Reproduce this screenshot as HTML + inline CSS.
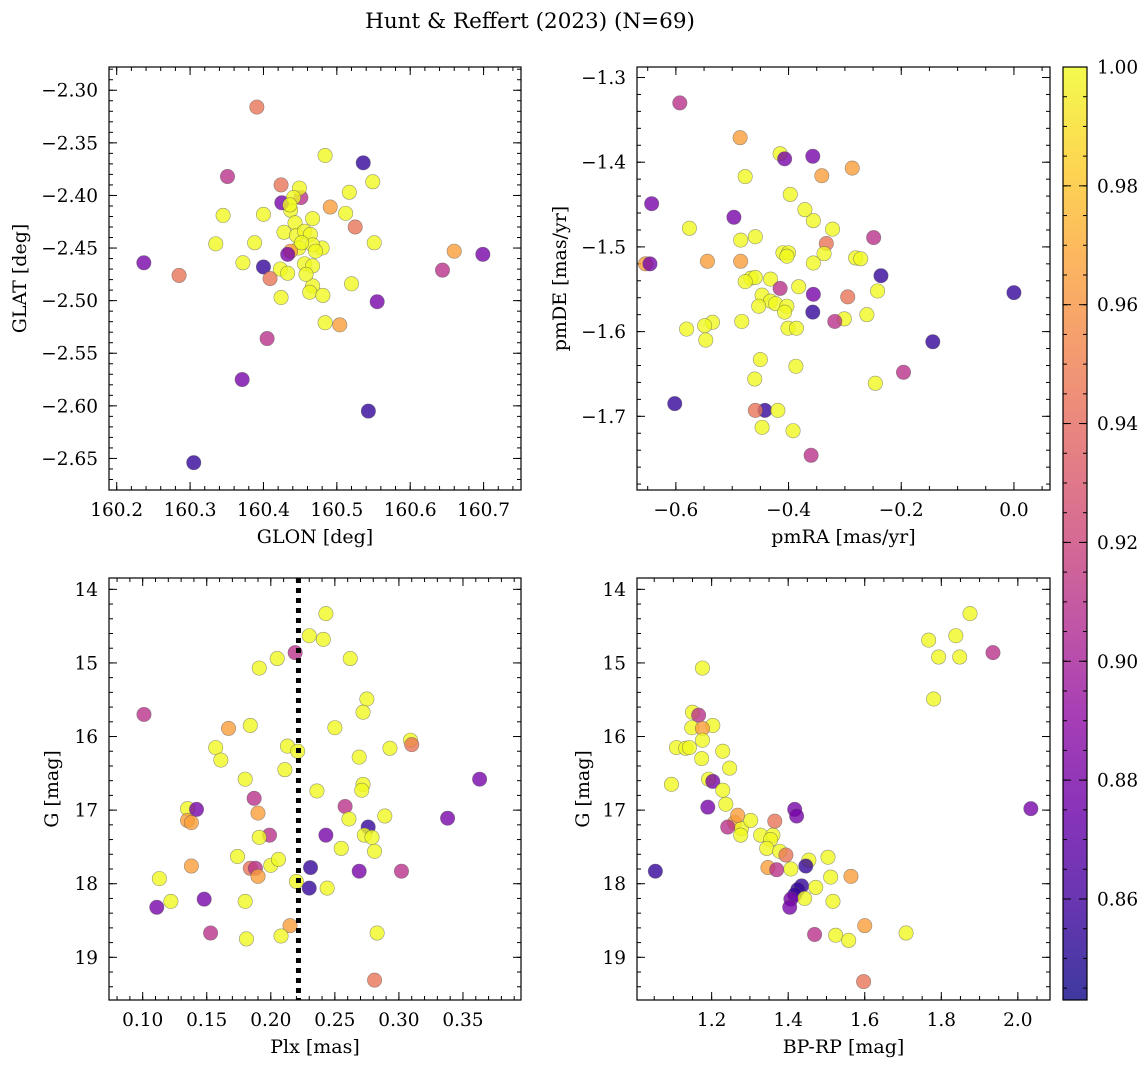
<!DOCTYPE html>
<html><head><meta charset="utf-8"><style>
html,body{margin:0;padding:0;background:#fff;}
svg{display:block;font-family:"DejaVu Serif","Liberation Serif",serif;}
</style></head><body>
<svg id="fig" width="1148" height="1067" viewBox="0 0 1148 1067" xmlns="http://www.w3.org/2000/svg">
<defs>
<linearGradient id="plasma" x1="0" y1="1" x2="0" y2="0">
<stop offset="0" stop-color="#0d0887"/><stop offset="0.1" stop-color="#41049d"/><stop offset="0.2" stop-color="#6a00a8"/><stop offset="0.3" stop-color="#8f0da4"/><stop offset="0.4" stop-color="#b12a90"/><stop offset="0.5" stop-color="#cc4778"/><stop offset="0.6" stop-color="#e16462"/><stop offset="0.7" stop-color="#f2844b"/><stop offset="0.8" stop-color="#fca636"/><stop offset="0.9" stop-color="#fcce25"/><stop offset="1" stop-color="#f0f921"/>
</linearGradient>
</defs>
<text x="530" y="28" font-size="21.5" text-anchor="middle">Hunt &amp; Reffert (2023) (N=69)</text>
</svg>
<script>
// Color values: D=0.855 P=0.88 M=0.91 S=0.945 O=0.965 Y=1.0
const D=0.855,P=0.88,M=0.91,S=0.945,O=0.965,Y=1.0;
// Panel 1: GLON / GLAT
const glon=[160.391,160.484,160.536,160.351,160.424,160.451,160.449,160.517,160.549,160.345,160.400,160.437,160.425,160.491,160.512,160.525,160.443,160.467,160.335,160.388,160.428,160.445,160.456,160.464,160.480,160.467,160.448,160.471,160.551,160.437,160.433,160.237,160.372,160.400,160.423,160.433,160.456,160.467,160.409,160.285,160.467,160.463,160.520,160.644,160.660,160.699,160.424,160.481,160.484,160.504,160.555,160.405,160.371,160.543,160.305,160.452,160.458,160.441,160.436];
const glat=[-2.316,-2.362,-2.369,-2.382,-2.390,-2.402,-2.393,-2.397,-2.387,-2.419,-2.418,-2.414,-2.407,-2.411,-2.417,-2.430,-2.426,-2.422,-2.446,-2.445,-2.435,-2.438,-2.434,-2.437,-2.450,-2.447,-2.450,-2.453,-2.445,-2.453,-2.456,-2.464,-2.464,-2.468,-2.470,-2.474,-2.465,-2.467,-2.479,-2.476,-2.486,-2.492,-2.484,-2.471,-2.453,-2.456,-2.497,-2.495,-2.521,-2.523,-2.501,-2.536,-2.575,-2.605,-2.654,-2.445,-2.475,-2.402,-2.409];
const prob1=[S,Y,D,M,S,M,Y,Y,Y,Y,Y,Y,P,O,Y,S,Y,Y,Y,Y,Y,Y,Y,Y,Y,Y,Y,Y,Y,O,P,P,Y,D,Y,Y,Y,Y,S,S,Y,Y,Y,M,O,P,Y,Y,Y,O,P,M,P,D,D,Y,Y,Y,Y];
// Panel 2: pmRA / pmDE
const pmra=[-0.593,-0.486,-0.415,-0.407,-0.357,-0.287,-0.341,-0.477,-0.397,-0.643,-0.497,-0.356,-0.371,-0.322,-0.576,-0.459,-0.485,-0.333,-0.249,-0.410,-0.400,-0.337,-0.403,-0.654,-0.646,-0.544,-0.485,-0.356,-0.281,-0.272,-0.236,-0.467,-0.459,-0.432,-0.477,-0.382,-0.415,-0.356,-0.242,-0.295,-0.447,-0.432,-0.423,-0.453,-0.403,-0.407,-0.357,-0.261,-0.301,-0.318,-0.483,-0.535,0.0,-0.401,-0.386,-0.549,-0.581,-0.144,-0.547,-0.450,-0.387,-0.460,-0.246,-0.196,-0.602,-0.442,-0.459,-0.419,-0.447,-0.392,-0.360];
const pmde=[-1.330,-1.371,-1.390,-1.396,-1.393,-1.407,-1.416,-1.417,-1.438,-1.449,-1.465,-1.469,-1.456,-1.479,-1.478,-1.488,-1.492,-1.496,-1.489,-1.507,-1.507,-1.508,-1.511,-1.520,-1.520,-1.517,-1.517,-1.519,-1.513,-1.514,-1.534,-1.537,-1.536,-1.538,-1.541,-1.547,-1.549,-1.556,-1.552,-1.559,-1.557,-1.564,-1.567,-1.570,-1.570,-1.577,-1.577,-1.580,-1.585,-1.588,-1.588,-1.589,-1.554,-1.596,-1.596,-1.593,-1.597,-1.612,-1.610,-1.633,-1.641,-1.656,-1.661,-1.648,-1.685,-1.693,-1.693,-1.693,-1.713,-1.717,-1.746];
const prob2=[M,O,Y,P,P,O,O,Y,Y,P,P,Y,Y,Y,Y,Y,Y,S,M,Y,Y,Y,Y,O,P,O,O,Y,Y,Y,D,Y,Y,Y,Y,Y,M,P,Y,S,Y,Y,Y,Y,Y,Y,D,Y,Y,M,Y,Y,D,Y,Y,Y,Y,D,Y,Y,Y,Y,Y,M,D,D,S,Y,Y,Y,M];
// Panel 3: Plx / G
const plx=[0.101,0.243,0.230,0.241,0.219,0.205,0.262,0.191,0.275,0.272,0.167,0.184,0.250,0.309,0.310,0.157,0.213,0.221,0.293,0.269,0.161,0.211,0.180,0.363,0.236,0.272,0.271,0.187,0.258,0.135,0.142,0.190,0.289,0.261,0.135,0.138,0.276,0.199,0.191,0.243,0.273,0.279,0.338,0.255,0.281,0.174,0.138,0.184,0.188,0.231,0.200,0.206,0.269,0.302,0.113,0.190,0.220,0.230,0.244,0.148,0.122,0.180,0.111,0.215,0.283,0.153,0.208,0.181,0.281];
const gmag3=[15.70,14.33,14.63,14.68,14.86,14.94,14.94,15.07,15.49,15.67,15.89,15.85,15.88,16.05,16.11,16.15,16.13,16.20,16.16,16.28,16.32,16.45,16.58,16.58,16.74,16.65,16.73,16.84,16.95,16.98,16.99,17.04,17.08,17.12,17.14,17.17,17.23,17.34,17.37,17.34,17.34,17.37,17.11,17.52,17.56,17.63,17.76,17.79,17.79,17.78,17.75,17.67,17.83,17.83,17.93,17.90,17.97,18.06,18.06,18.21,18.24,18.24,18.32,18.57,18.67,18.67,18.71,18.75,19.31];
const prob3=[M,Y,Y,Y,M,Y,Y,Y,Y,Y,O,Y,Y,Y,S,Y,Y,Y,Y,Y,Y,Y,Y,P,Y,Y,Y,M,M,Y,P,O,Y,Y,O,O,D,M,Y,P,Y,Y,P,Y,Y,Y,O,S,M,D,Y,Y,P,M,Y,O,Y,D,Y,P,Y,Y,P,O,Y,M,Y,Y,S];
// Panel 4: BP-RP / G
const bprp=[1.875,1.838,1.767,1.848,1.793,1.935,1.176,1.780,1.150,1.166,1.203,1.148,1.176,1.176,1.108,1.132,1.142,1.229,1.174,1.095,1.247,1.192,1.203,1.229,1.237,1.190,1.260,1.278,1.242,1.302,1.268,1.276,1.328,1.360,1.417,1.422,1.365,1.354,1.344,2.034,1.378,1.394,1.454,1.504,1.446,1.347,1.407,1.370,1.053,1.564,1.511,1.435,1.425,1.472,1.417,1.443,1.407,1.517,1.404,1.600,1.708,1.469,1.524,1.558,1.597];
const gmag4=[14.33,14.63,14.69,14.92,14.92,14.86,15.07,15.49,15.67,15.71,15.85,15.88,15.89,16.05,16.15,16.16,16.15,16.20,16.30,16.65,16.43,16.58,16.61,16.73,16.92,16.96,17.17,17.25,17.23,17.14,17.07,17.34,17.34,17.34,16.99,17.08,17.15,17.40,17.52,16.98,17.56,17.61,17.68,17.64,17.76,17.78,17.80,17.81,17.83,17.90,17.91,18.03,18.08,18.05,18.15,18.20,18.21,18.24,18.32,18.57,18.67,18.69,18.70,18.77,19.33];
const prob4=[Y,Y,Y,Y,Y,M,Y,Y,Y,M,Y,Y,O,Y,Y,Y,Y,Y,Y,Y,Y,Y,P,Y,Y,P,O,Y,M,Y,O,Y,Y,Y,P,P,S,Y,Y,P,Y,S,Y,Y,D,O,Y,M,D,O,Y,D,D,Y,D,Y,P,Y,P,O,Y,M,Y,Y,S];
const plxLine=[0.2216];
const cbTicks=[0.86,0.88,0.90,0.92,0.94,0.96,0.98,1.00];

const NS="http://www.w3.org/2000/svg";
const svg=document.getElementById('fig');
function el(tag,attrs,parent){const e=document.createElementNS(NS,tag);for(const k in attrs)e.setAttribute(k,attrs[k]);(parent||svg).appendChild(e);return e;}
const stops=[[0,[13,8,135]],[0.1,[65,4,157]],[0.2,[106,0,168]],[0.3,[143,13,164]],[0.4,[177,42,144]],[0.5,[204,71,120]],[0.6,[225,100,98]],[0.7,[242,132,75]],[0.8,[252,166,54]],[0.9,[252,206,37]],[1,[240,249,33]]];
const CMIN=0.843,CMAX=1.0;
function plasma(v){let t=Math.max(0,Math.min(1,(v-CMIN)/(CMAX-CMIN)));for(let i=1;i<stops.length;i++){if(t<=stops[i][0]){const a=stops[i-1],b=stops[i];const f=(t-a[0])/(b[0]-a[0]);const c=a[1].map((x,j)=>Math.round(x+(b[1][j]-x)*f));return `rgb(${c[0]},${c[1]},${c[2]})`;}}return 'rgb(240,249,33)';}
function fmt(v,d){const s=Math.abs(v).toFixed(d);return (v<-1e-9?'\u2212':'')+s;}
const TFS=18.5, LFS=19;

function panel(cfg){
  const {name,L,T,W,H,xd,yd,yinv,xmaj,xmin,ymaj,ymin,xdec,ydec,xlabel,ylabel,ylOff}=cfg;
  const g=el('g',{});
  
  
  const sx=v=>L+(v-xd[0])/(xd[1]-xd[0])*W;
  const sy=v=>yinv? T+(v-yd[0])/(yd[1]-yd[0])*H : T+H-(v-yd[0])/(yd[1]-yd[0])*H;
  const ticks=(a,b,s)=>{const r=[];const n0=Math.ceil(a/s-1e-6),n1=Math.floor(b/s+1e-6);for(let n=n0;n<=n1;n++)r.push(+(n*s).toFixed(6));return r;};
  const tg=el('g',{stroke:'#000','stroke-width':1},g);
  
  
  ticks(xd[0],xd[1],xmin).forEach(v=>{const x=sx(v);el('line',{x1:x,x2:x,y1:T+H,y2:T+H-4},tg);el('line',{x1:x,x2:x,y1:T,y2:T+4},tg);});
  ticks(yd[0],yd[1],ymin).forEach(v=>{const y=sy(v);el('line',{x1:L,x2:L+4,y1:y,y2:y},tg);el('line',{x1:L+W,x2:L+W-4,y1:y,y2:y},tg);});
  ticks(xd[0],xd[1],xmaj).forEach(v=>{const x=sx(v);el('line',{x1:x,x2:x,y1:T+H,y2:T+H-8},tg);el('line',{x1:x,x2:x,y1:T,y2:T+8},tg);
    const t=el('text',{x:x,y:T+H+26,'font-size':TFS,'text-anchor':'middle'},g);t.textContent=fmt(v,xdec);
    });
  ticks(yd[0],yd[1],ymaj).forEach(v=>{const y=sy(v);el('line',{x1:L,x2:L+8,y1:y,y2:y},tg);el('line',{x1:L+W,x2:L+W-8,y1:y,y2:y},tg);
    const t=el('text',{x:L-11,y:y+6.5,'font-size':TFS,'text-anchor':'end'},g);t.textContent=fmt(v,ydec);
    });
  const xl=el('text',{x:L+W/2,y:T+H+53,'font-size':LFS,'text-anchor':'middle'},g);xl.textContent=xlabel;
  
  const yl=el('text',{x:0,y:0,'font-size':LFS,'text-anchor':'middle',transform:`translate(${L-ylOff+6},${T+H/2}) rotate(-90)`},g);yl.textContent=ylabel;
  
  const fr=el('rect',{x:L,y:T,width:W,height:H,fill:'none',stroke:'#000','stroke-width':1.2},g);
  
  return {g,sx,sy};
}
function scatter(p,xs,ys,cs,name){
  const pg=el('g',{},p.g);
  
  
  for(let i=0;i<xs.length;i++){
    const c=el('circle',{cx:p.sx(xs[i]),cy:p.sy(ys[i]),r:7.2,fill:plasma(cs[i]),'fill-opacity':0.8,stroke:'#555','stroke-opacity':0.6,'stroke-width':0.6},pg);
    
    
  }
}
const p1=panel({name:'glon-glat-panel',L:109,T:67,W:412,H:423,xd:[160.1895,160.751],yd:[-2.680,-2.2779],xmaj:0.1,xmin:0.02,ymaj:0.05,ymin:0.01,xdec:1,ydec:2,xlabel:'GLON [deg]',ylabel:'GLAT [deg]',ylOff:89});
scatter(p1,glon,glat,prob1,'glon-glat-points');
const p2=panel({name:'proper-motion-panel',L:637,T:67,W:413,H:423,xd:[-0.669,0.064],yd:[-1.787,-1.2876],xmaj:0.2,xmin:0.05,ymaj:0.1,ymin:0.02,xdec:1,ydec:1,xlabel:'pmRA [mas/yr]',ylabel:'pmDE [mas/yr]',ylOff:77});
scatter(p2,pmra,pmde,prob2,'proper-motion-points');
const p3=panel({name:'plx-g-panel',L:109,T:578,W:412,H:422,xd:[0.0737,0.3953],yd:[13.846,19.580],yinv:true,xmaj:0.05,xmin:0.01,ymaj:1,ymin:0.2,xdec:2,ydec:0,xlabel:'Plx [mas]',ylabel:'G [mag]',ylOff:57});
scatter(p3,plx,gmag3,prob3,'plx-g-points');
plxLine.forEach(v=>{const ln=el('line',{x1:p3.sx(v),x2:p3.sx(v),y1:578,y2:1000,stroke:'#000','stroke-width':5,'stroke-dasharray':'5,5'},p3.g);
  });
const p4=panel({name:'cmd-panel',L:637,T:578,W:413,H:422,xd:[1.005,2.084],yd:[13.846,19.580],yinv:true,xmaj:0.2,xmin:0.05,ymaj:1,ymin:0.2,xdec:1,ydec:0,xlabel:'BP-RP [mag]',ylabel:'G [mag]',ylOff:54});
scatter(p4,bprp,gmag4,prob4,'cmd-points');
// colorbar
const cb=el('g',{});


const CBT=67,CBB=1000,CBL=1063,CBW=24;
el('rect',{x:CBL,y:CBT,width:CBW,height:CBB-CBT,fill:'url(#plasma)','fill-opacity':0.8},cb);
el('rect',{x:CBL,y:CBT,width:CBW,height:CBB-CBT,fill:'none',stroke:'#000','stroke-width':1.2},cb);
const cy=v=>CBB-(v-CMIN)/(CMAX-CMIN)*(CBB-CBT);
for(let v=0.845;v<=1.0001;v+=0.005){const y=cy(v);el('line',{x1:CBL+CBW,x2:CBL+CBW-4,y1:y,y2:y,stroke:'#000'},cb);el('line',{x1:CBL,x2:CBL+4,y1:y,y2:y,stroke:'#000'},cb);}
cbTicks.forEach(v=>{const y=cy(v);el('line',{x1:CBL+CBW,x2:CBL+CBW-8,y1:y,y2:y,stroke:'#000'},cb);el('line',{x1:CBL,x2:CBL+8,y1:y,y2:y,stroke:'#000'},cb);
  const t=el('text',{x:CBL+CBW+10,y:y+6.5,'font-size':TFS},cb);t.textContent=v.toFixed(2);
  });
</script>
</body></html>
